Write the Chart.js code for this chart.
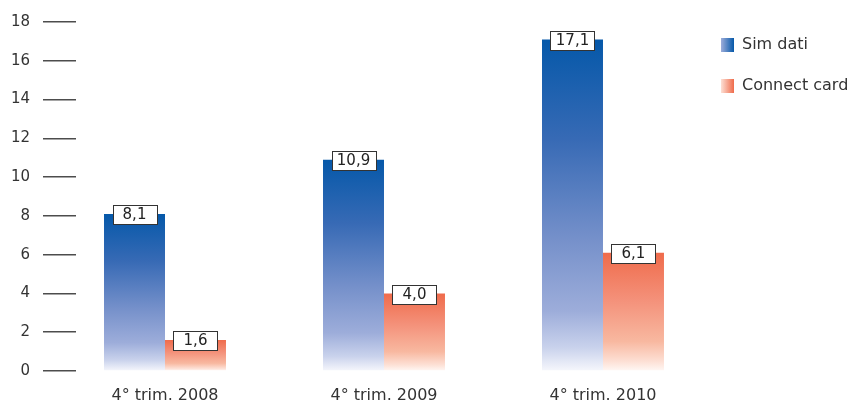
<!DOCTYPE html>
<html>
<head>
<meta charset="utf-8">
<script src="https://cdn.jsdelivr.net/npm/chart.js@4/dist/chart.umd.min.js"></script>
<style>
  html, body { margin: 0; padding: 0; background: #fff; }
  #wrap { width: 850px; height: 404px; position: relative; }
</style>
</head>
<body>
<div id="wrap"><canvas id="chart"></canvas></div>
<script>
const quarters = ["4° trim. 2008", "4° trim. 2009", "4° trim. 2010"];
const simDati = [8.1, 10.9, 17.1];
const connectCard = [1.6, 4.0, 6.1];
const yTicks = [0, 2, 4, 6, 8, 10, 12, 14, 16, 18];

const blueStops = [[0, '#0558a9'], [0.3, '#376ab5'], [0.6, '#7590ca'], [0.82, '#9dadda'], [0.93, '#c9d2ec'], [1, '#f6f7fc']];
const orangeStops = [[0, '#ef6b4b'], [0.4, '#f4917a'], [0.75, '#f8b8a0'], [0.92, '#fde0d5'], [1, '#fff8f5']];

Chart.defaults.font.family = "'DejaVu Sans', Verdana, sans-serif";
Chart.defaults.font.size = 15;
Chart.defaults.color = '#333';

// vertical gradient per bar, from its top down to the zero line
function barFill(stops) {
  return ctx => {
    const chart = ctx.chart;
    if (!chart.chartArea || !ctx.parsed) return stops[0][1];
    const y = chart.scales.y;
    const top = y.getPixelForValue(ctx.parsed.y);
    const base = y.getPixelForValue(0);
    const g = chart.ctx.createLinearGradient(0, top, 0, base);
    stops.forEach(([o, c]) => g.addColorStop(o, c));
    return g;
  };
}

const toPoints = arr => arr.map((v, i) => ({ x: i, y: v }));

// boxed value on top of each bar
const valueBoxes = {
  id: 'valueBoxes',
  afterDatasetsDraw(chart) {
    const c = chart.ctx;
    c.save();
    c.font = "15px 'DejaVu Sans', Verdana, sans-serif";
    c.textAlign = 'center';
    c.textBaseline = 'middle';
    chart.data.datasets.forEach((ds, di) => {
      chart.getDatasetMeta(di).data.forEach((bar, i) => {
        const w = 44, h = 19;
        const x = Math.round(bar.x - w / 2) + 0.5;
        const y = Math.round(bar.y - h / 2 + 1) + 0.5;
        c.fillStyle = '#fff';
        c.fillRect(x, y, w, h);
        c.strokeStyle = '#333';
        c.lineWidth = 1;
        c.strokeRect(x, y, w, h);
        c.fillStyle = '#222';
        c.fillText(ds.data[i].y.toFixed(1).replace('.', ','), bar.x, y + h / 2 + 0.5);
      });
    });
    c.restore();
  }
};

// legend swatches get a horizontal gradient, light to dark
const legendSwatch = {
  id: 'legendSwatch',
  beforeDraw(chart) {
    const lg = chart.legend;
    if (!lg || !lg.legendItems) return;
    const sets = [blueStops, orangeStops];
    lg.legendItems.forEach((item, i) => {
      const hb = lg.legendHitBoxes[i];
      const g = chart.ctx.createLinearGradient(hb.left, 0, hb.left + 13, 0);
      const s = sets[i];
      g.addColorStop(0, s[3][1]);
      g.addColorStop(1, s[0][1]);
      item.fillStyle = g;
      item.lineWidth = 0;
    });
  }
};

new Chart(document.getElementById('chart'), {
  type: 'bar',
  data: {
    datasets: [
      { label: 'Sim dati', data: toPoints(simDati), backgroundColor: barFill(blueStops), borderWidth: 0 },
      { label: 'Connect card', data: toPoints(connectCard), backgroundColor: barFill(orangeStops), borderWidth: 0 }
    ]
  },
  options: {
    responsive: true,
    maintainAspectRatio: false,
    animation: false,
    layout: { padding: { top: 12, right: 0, bottom: 0, left: 0 } },
    datasets: { bar: { categoryPercentage: 0.557, barPercentage: 1.0 } },
    scales: {
      x: {
        type: 'linear',
        offset: false,
        min: -0.4064,
        max: 2.4247,
        afterFit: s => { s.height = 33; },
        grid: { display: false, drawTicks: false },
        border: { display: false },
        afterBuildTicks: s => {
          s.ticks = quarters.map((q, i) => ({ value: i }));
        },
        ticks: {
          padding: 15,
          color: '#333',
          font: { size: 16 },
          callback: v => quarters[v] ?? ''
        }
      },
      y: {
        min: 0,
        max: 18,
        afterFit: s => { s.width = 76; },
        afterBuildTicks: s => {
          s.ticks = yTicks.map(v => ({ value: v }));
        },
        grid: {
          drawOnChartArea: false,
          drawTicks: true,
          tickLength: 33,
          color: '#4d4d4d',
          lineWidth: 1.5
        },
        border: { display: false },
        ticks: { padding: 13, color: '#333' }
      }
    },
    plugins: {
      tooltip: { enabled: false },
      legend: {
        position: 'right',
        align: 'start',
        maxWidth: 154,
        labels: {
          boxWidth: 13,
          boxHeight: 14,
          padding: 25,
          color: '#333',
          font: { size: 16 }
        }
      }
    }
  },
  plugins: [valueBoxes, legendSwatch]
});
</script>
</body>
</html>
